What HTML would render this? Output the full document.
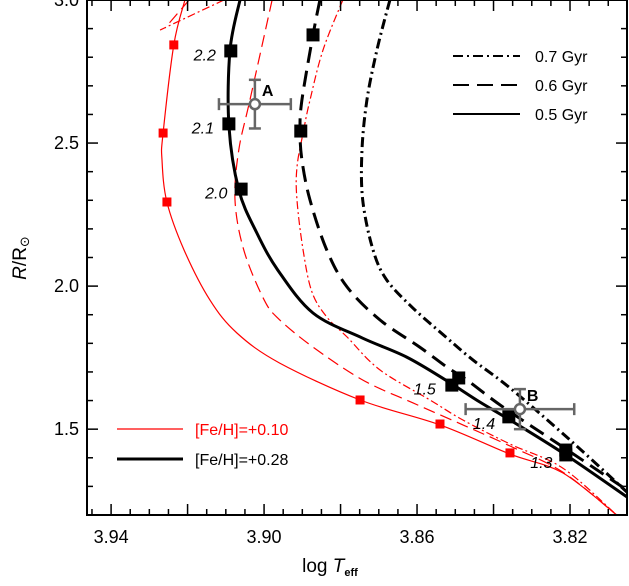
<!DOCTYPE html>
<html><head><meta charset="utf-8"><style>
body{margin:0;background:#fff}
svg text{font-family:"Liberation Sans",sans-serif}
</style></head><body>
<svg id="chart" width="629" height="581" xmlns="http://www.w3.org/2000/svg"></svg>
<script>
// ---- data ----
const blk05T=[3.9063,3.9089,3.9092,3.9066,3.9019,3.8964,3.8872,3.8742,3.8627,3.8522,3.8436,3.8357,3.8219,3.8051];
const blk05R=[3.0,2.825,2.563,2.336,2.186,2.056,1.906,1.818,1.752,1.669,1.595,1.532,1.417,1.263];
const blk06T=[3.8854,3.8872,3.8901,3.8906,3.8901,3.8880,3.8836,3.8783,3.8697,3.8593,3.8522,3.8470,3.8376,3.8219,3.8051];
const blk06R=[3.0,2.878,2.650,2.546,2.441,2.301,2.126,1.997,1.882,1.787,1.717,1.672,1.578,1.438,1.287];
const blk07T=[3.8671,3.8705,3.8731,3.8744,3.8742,3.8715,3.8679,3.8611,3.8522,3.8454,3.8357,3.8200,3.8051];
const blk07R=[3.0,2.825,2.650,2.476,2.301,2.126,2.021,1.924,1.819,1.742,1.644,1.462,1.280];
const red05T=[3.9207,3.9236,3.9264,3.9267,3.9254,3.9209,3.9142,3.9071,3.8959,3.8749,3.8540,3.8357,3.8219,3.8078];
const red05R=[3.0,2.843,2.535,2.441,2.294,2.126,1.952,1.836,1.731,1.602,1.515,1.413,1.347,1.2];
const red06T=[3.8979,3.9037,3.9066,3.9076,3.9053,3.9000,3.8959,3.8872,3.8742,3.8611,3.8480,3.8357,3.8219,3.8078];
const red06R=[3.0,2.650,2.476,2.301,2.126,1.952,1.882,1.787,1.672,1.592,1.515,1.441,1.350,1.2];
const red07T=[3.8794,3.8846,3.8880,3.8898,3.8914,3.8914,3.8898,3.8875,3.8836,3.8783,3.8697,3.8566,3.8480,3.8357,3.8219,3.8078];
const red07R=[3.0,2.825,2.650,2.535,2.416,2.301,2.126,1.980,1.892,1.822,1.707,1.602,1.532,1.448,1.364,1.2];
const hookDashT=[3.9196,3.9259];const hookDashR=[3.0,2.902];
const hookDotT=[3.9105,3.9272];const hookDotR=[3.0,2.895];
const redMarkT=[3.9236,3.9264,3.9254,3.8749,3.8540,3.8357];
const redMarkR=[2.843,2.535,2.294,1.602,1.518,1.417];
const blkMarkT=[3.9087,3.9092,3.9060,3.8509,3.8360,3.8211,3.8872,3.8904,3.8491,3.8211];
const blkMarkR=[2.822,2.567,2.339,1.654,1.543,1.410,2.878,2.542,1.679,1.427];
const massLabels=["2.2","2.1","2.0","1.5","1.4","1.3"];
const massLabT=[3.9155,3.9160,3.9125,3.8580,3.8425,3.8275];
const massLabR=[2.810,2.555,2.328,1.643,1.522,1.385];
const starNames=["A","B"];
const starT=[3.9024,3.8331];const starR=[2.636,1.570];
const starTerr=[0.0094,0.0142];const starRerr=[0.085,0.07];
const xTickLabels=[3.94,3.90,3.86,3.82];
const yTickLabels=[1.5,2.0,2.5,3.0];
// ---- axes ----
const X0=87,X1=627,Y0=0,Y1=515,TMAX=3.9463,TMIN=3.8051,RMIN=1.2,RMAX=3.0;
const sx=t=>X0+(TMAX-t)/(TMAX-TMIN)*(X1-X0);
const sy=r=>Y1-(r-RMIN)/(RMAX-RMIN)*(Y1-Y0);
const svg=document.getElementById('chart');
const NS='http://www.w3.org/2000/svg';
function mk(tag,attrs,parent){const e=document.createElementNS(NS,tag);for(const k in attrs)e.setAttribute(k,attrs[k]);(parent||svg).appendChild(e);return e;}
const clip=mk('clipPath',{id:'pc'});mk('rect',{x:X0,y:Y0,width:X1-X0,height:Y1-Y0},clip);
const plot=mk('g',{'clip-path':'url(#pc)'});


function smooth(P){
  if(P.length<3)return 'M'+P.map(p=>p.join(',')).join('L');
  let d='M'+P[0][0].toFixed(1)+','+P[0][1].toFixed(1);
  for(let i=0;i<P.length-1;i++){
    const p0=P[i-1]||P[i],p1=P[i],p2=P[i+1],p3=P[i+2]||P[i+1];
    const c1=[p1[0]+(p2[0]-p0[0])/6,p1[1]+(p2[1]-p0[1])/6];
    const c2=[p2[0]-(p3[0]-p1[0])/6,p2[1]-(p3[1]-p1[1])/6];
    d+='C'+c1.map(v=>v.toFixed(1)).join(',')+' '+c2.map(v=>v.toFixed(1)).join(',')+' '+p2[0].toFixed(1)+','+p2[1].toFixed(1);
  }
  return d;
}
function line(T,R,stroke,w,dash,name){
  const P=T.map((t,i)=>[sx(t),sy(R[i])]);
  const p=mk('path',{d:smooth(P),fill:'none',stroke:stroke,'stroke-width':w,'stroke-dasharray':dash||'none','stroke-linejoin':'round'},plot);
  
  
}
line(red05T,red05R,'#f00',1.2,'','red-0.5gyr-track');
line(red06T,red06R,'#f00',1.2,'12,6','red-0.6gyr-track');
line(red07T,red07R,'#f00',1.2,'8,3,2,3','red-0.7gyr-track');
line(hookDashT,hookDashR,'#f00',1.2,'12,6','red-0.6gyr-hook');
line(hookDotT,hookDotR,'#f00',1.2,'8,3,2,3','red-0.7gyr-hook');
line(blk05T,blk05R,'#000',3,'','black-0.5gyr-track');
line(blk06T,blk06R,'#000',3,'16,8','black-0.6gyr-track');
line(blk07T,blk07R,'#000',3,'10,4,2,4','black-0.7gyr-track');
redMarkT.forEach((t,i)=>{const r=mk('rect',{x:sx(t)-4.5,y:sy(redMarkR[i])-4.5,width:9,height:9,fill:'#f00'},plot);

});
blkMarkT.forEach((t,i)=>{const r=mk('rect',{x:sx(t)-6.5,y:sy(blkMarkR[i])-6.5,width:13,height:13,fill:'#000'},plot);

});
massLabels.forEach((s,i)=>{const e=mk('text',{x:sx(massLabT[i]),y:sy(massLabR[i])+6,'font-size':16,'font-style':'italic','text-anchor':'middle',fill:'#000'});e.textContent=s;

});
starNames.forEach((n,i)=>{
  const g=mk('g',{stroke:'#666','stroke-width':2.5,fill:'none'});
  
  
  const cx=sx(starT[i]),cy=sy(starR[i]),xa=sx(starT[i]+starTerr[i]),xb=sx(starT[i]-starTerr[i]),ya=sy(starR[i]+starRerr[i]),yb=sy(starR[i]-starRerr[i]);
  mk('line',{x1:xa,y1:cy,x2:xb,y2:cy},g);mk('line',{x1:cx,y1:ya,x2:cx,y2:yb},g);
  mk('line',{x1:xa,y1:cy-6,x2:xa,y2:cy+6},g);mk('line',{x1:xb,y1:cy-6,x2:xb,y2:cy+6},g);
  mk('line',{x1:cx-6,y1:ya,x2:cx+6,y2:ya},g);mk('line',{x1:cx-6,y1:yb,x2:cx+6,y2:yb},g);
  mk('circle',{cx:cx,cy:cy,r:5,fill:'#fff'},g);
  const t=mk('text',{x:cx+7,y:cy-8,'font-size':16,'font-weight':'bold',fill:'#000',stroke:'none'});t.textContent=n;
  
  
});
// frame & ticks
const fr=mk('rect',{x:X0,y:Y0,width:X1-X0,height:Y1-Y0,fill:'none',stroke:'#000','stroke-width':2});


const tk=mk('g',{stroke:'#000','stroke-width':1.5});


for(let k=0;k<=28;k++){const t=3.945-k*0.005;if(t<TMIN)break;const x=sx(t);const L=(Math.round(t*1000)%20===0)?11:6;
  mk('line',{x1:x,y1:Y1,x2:x,y2:Y1-L},tk);mk('line',{x1:x,y1:Y0,x2:x,y2:Y0+L},tk);}
for(let k=0;k<=18;k++){const r=1.2+k*0.1;const y=sy(r);const L=(Math.round(r*10)%5===0)?11:6;
  mk('line',{x1:X0,y1:y,x2:X0+L,y2:y},tk);mk('line',{x1:X1,y1:y,x2:X1-L,y2:y},tk);}
xTickLabels.forEach(v=>{const e=mk('text',{x:sx(v),y:Y1+28,'font-size':18,'text-anchor':'middle'});e.textContent=v.toFixed(2);

});
yTickLabels.forEach(v=>{const e=mk('text',{x:X0-8,y:sy(v)+6,'font-size':18,'text-anchor':'end'});e.textContent=v.toFixed(1);

});
// axis titles
const xt=mk('text',{x:330,y:572,'font-size':19,'text-anchor':'middle','font-family':'Liberation Serif'});
xt.innerHTML='log  <tspan font-style="italic">T</tspan><tspan font-size="11" dy="4" font-weight="bold">eff</tspan>';


const yt=mk('text',{x:0,y:0,'font-size':19,'text-anchor':'middle','font-family':'Liberation Serif',transform:'translate(26,258) rotate(-90)'});
yt.innerHTML='<tspan font-style="italic">R</tspan>/R<tspan font-family="DejaVu Sans" font-size="13" dy="3">⊙</tspan>';


// legends
const lg=[['0.7 Gyr','10,4,2,4',56],['0.6 Gyr','16,8',85],['0.5 Gyr','',114]];
lg.forEach(a=>{const g=mk('g',{});


mk('line',{x1:453,y1:a[2],x2:520,y2:a[2],stroke:'#000','stroke-width':2,'stroke-dasharray':a[1]||'none'},g);
const t=mk('text',{x:535,y:a[2]+6,'font-size':16},g);t.textContent=a[0];});
const lf=[['[Fe/H]=+0.10','#f00',1.2,429],['[Fe/H]=+0.28','#000',3,459]];
lf.forEach(a=>{const g=mk('g',{});


mk('line',{x1:117,y1:a[3],x2:183,y2:a[3],stroke:a[1],'stroke-width':a[2]},g);
const t=mk('text',{x:195,y:a[3]+6,'font-size':16,fill:a[1]},g);t.textContent=a[0];});
</script>
</body></html>
